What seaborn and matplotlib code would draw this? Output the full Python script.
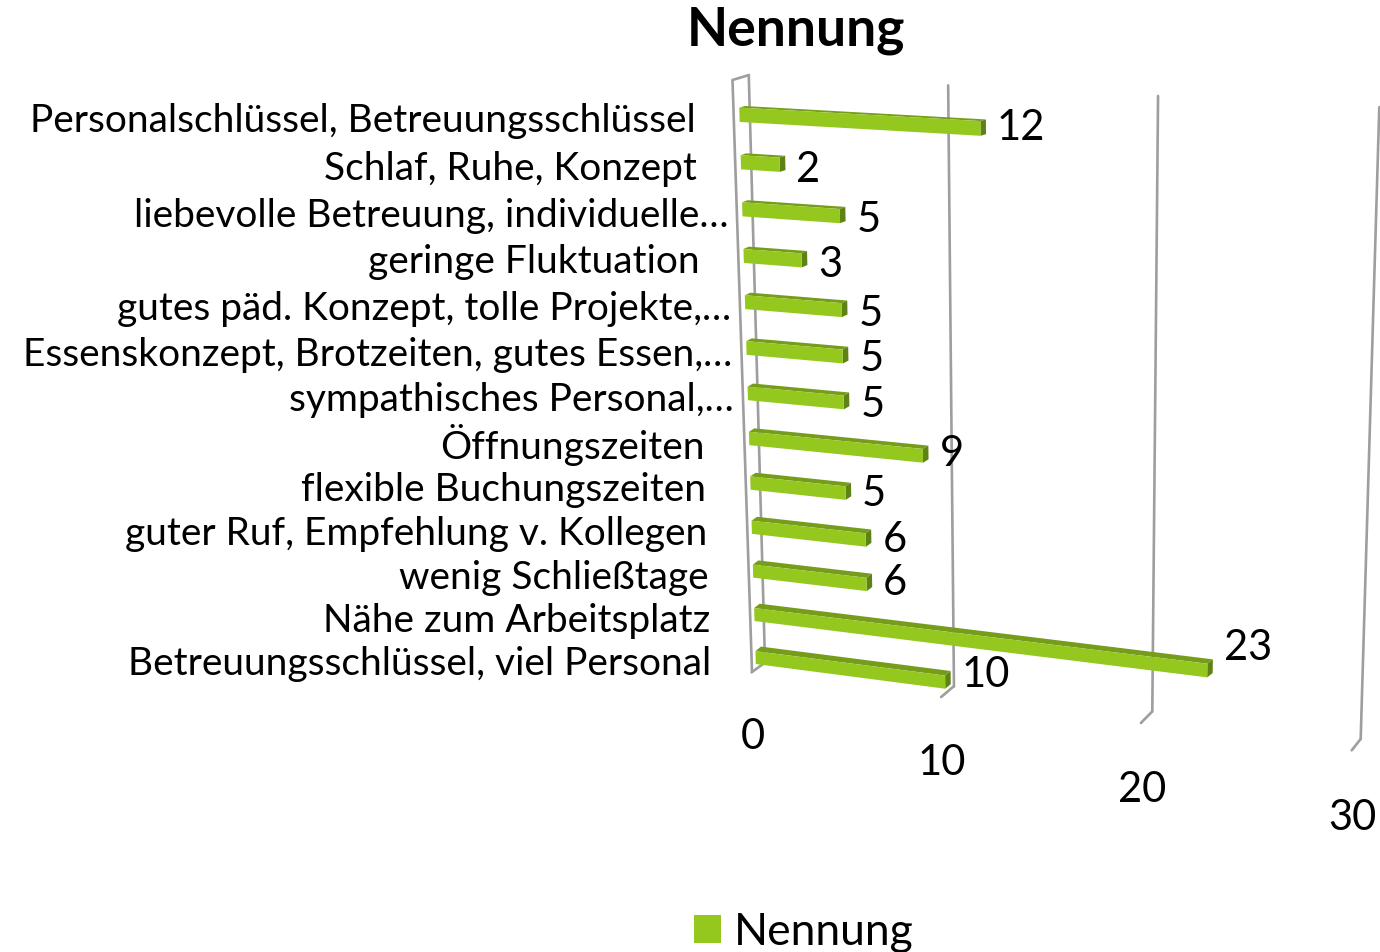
import numpy as np
import pandas as pd
import matplotlib
matplotlib.use('Agg')
import matplotlib.pyplot as plt
import seaborn as sns
from matplotlib.transforms import Transform, Affine2D

categories = ['Personalschlüssel, Betreuungsschlüssel', 'Schlaf, Ruhe, Konzept',
              'liebevolle Betreuung, individuelle…', 'geringe Fluktuation',
              'gutes päd. Konzept, tolle Projekte,…', 'Essenskonzept, Brotzeiten, gutes Essen,…',
              'sympathisches Personal,…', 'Öffnungszeiten', 'flexible Buchungszeiten',
              'guter Ruf, Empfehlung v. Kollegen', 'wenig Schließtage',
              'Nähe zum Arbeitsplatz', 'Betreuungsschlüssel, viel Personal']
nennung = [12, 2, 5, 3, 5, 5, 5, 9, 5, 6, 6, 23, 10]
axis_ticks = [0, 10, 20, 30]

# vertical nudge of the value labels, excel placed them unevenly
label_dy = [-1, 4, 3, 4, 3, 2, 2, -3, 0, -1, -2, -24, -8]

GREEN = '#95C81F'
TOP = '#769C1B'
SIDE = '#5F8216'
GRID = '#9E9E9E'
FONT = 'Lato'

W, H = 1380, 953


def fit_plane(src, dst):
    # projective map from chart coords to image pixels, least squares
    rows, rhs = [], []
    for (u, v), (x, y) in zip(src, dst):
        rows.append([u, v, 1, 0, 0, 0, -u * x, -v * x])
        rows.append([0, 0, 0, u, v, 1, -u * y, -v * y])
        rhs += [x, y]
    h = np.linalg.lstsq(np.array(rows, float), np.array(rhs, float), rcond=None)[0]
    return np.append(h, 1).reshape(3, 3)


class Plane(Transform):
    input_dims = 2
    output_dims = 2

    def __init__(self, matrix):
        super().__init__()
        self.matrix = matrix

    def transform_non_affine(self, values):
        values = np.asarray(values, float)
        p = np.column_stack([values, np.ones(len(values))]) @ self.matrix.T
        return p[:, :2] / p[:, 2:]


# perspective of the 3d chart, measured on the picture
bar_plane = Plane(fit_plane(
    [(0, 0), (12, 0), (0, 1), (2, 1), (0, 11), (23, 11), (0, 12), (10, 12)],
    [(739, 116.3), (980.5, 130.3), (741, 163), (780, 164.5),
     (755, 616), (1208, 671.5), (756, 659), (943.5, 682.5)]))
wall_plane = Plane(fit_plane(
    [(0, 0), (10, 0), (20, 0), (30, 0), (0, 1), (10, 1), (20, 1), (30, 1)],
    [(749, 76), (947.7, 86.7), (1158.3, 96.7), (1379.3, 108.3),
     (765, 665), (954, 686), (1152.3, 712.7), (1360.7, 739.3)]))
floor_plane = Plane(fit_plane(
    [(0, 0), (10, 0), (20, 0), (30, 0), (0, 1), (10, 1), (20, 1), (30, 1)],
    [(765, 665), (954, 686), (1152.3, 712.7), (1360.7, 739.3),
     (752, 672.7), (940.7, 697.7), (1141, 724), (1351.7, 752.3)]))

sns.set_theme(style='white')
plt.rcParams['font.family'] = [FONT, 'DejaVu Sans']

df = pd.DataFrame({'Kategorie': categories, 'Nennung': nennung})

fig = plt.figure(figsize=(W / 100, H / 100), dpi=100)
ax = fig.add_axes([0, 0, 1, 1])
sns.barplot(data=df, x='Nennung', y='Kategorie', color=GREEN, saturation=1, width=0.3,
            orient='h', label='Nennung', linewidth=0, ax=ax, zorder=4)
ax.set_axis_off()

px = Affine2D().scale(1, -1).translate(0, H)

# back wall and floor lines
for v in axis_ticks:
    ax.plot([v, v], [0, 1], color=GRID, lw=1.9, transform=wall_plane + px, zorder=1, clip_on=False)
    ax.plot([v, v], [0, 1], color=GRID, lw=1.9, transform=floor_plane + px, zorder=1, clip_on=False)
    tx, ty = floor_plane.transform([(v, 1)])[0]
    ax.text(tx + 1, ty + 64 + v * 0.1, str(v), ha='center', va='center', fontsize=30, color='black', transform=px)

# left side wall
ax.plot([749, 732.5, 752], [76, 81, 672.7], color=GRID, lw=1.9, transform=px, zorder=1)

# 3d look for every bar, depth is larger further down
for i, bar in enumerate(ax.patches):
    val = bar.get_width()
    y0, y1 = bar.get_y(), bar.get_y() + bar.get_height()
    bar.set_transform(bar_plane + px)
    dx, dy = 5.5, -1.6 - 0.25 * i
    (lx, ly), (rx, ry), (rbx, rby) = bar_plane.transform([(0, y0), (val, y0), (val, y1)])
    ax.fill([lx, rx, rx + dx, lx + dx], [ly, ry, ry + dy, ly + dy], color=TOP, lw=0, transform=px, zorder=3)
    ax.fill([rx, rx + dx, rbx + dx, rbx], [ry, ry + dy, rby + dy, rby], color=SIDE, lw=0, transform=px, zorder=3)

    cx, cy = bar_plane.transform([(val, i)])[0]
    ax.text(cx + dx + 11, cy + label_dy[i], str(nennung[i]), ha='left', va='center',
            fontsize=30, color='black', transform=px)

    sx, sy = bar_plane.transform([(0, i)])[0]
    pad = 14 if categories[i].endswith('…') else 44
    ax.text(sx - pad, sy + 5.5, categories[i], ha='right', va='center', fontsize=28,
            color='black', transform=px)

ax.text(796, 31, 'Nennung', ha='center', va='center', fontsize=38.5, fontweight='bold',
        color='black', transform=px)

ax.legend(loc='center', bbox_to_anchor=(804 / W, 1 - 933 / H), frameon=False, fontsize=32,
          handlelength=0.6, handleheight=0.6, handletextpad=0.3, borderpad=0, labelcolor='black')

fig.savefig('out.png', dpi=100)
plt.close(fig)
